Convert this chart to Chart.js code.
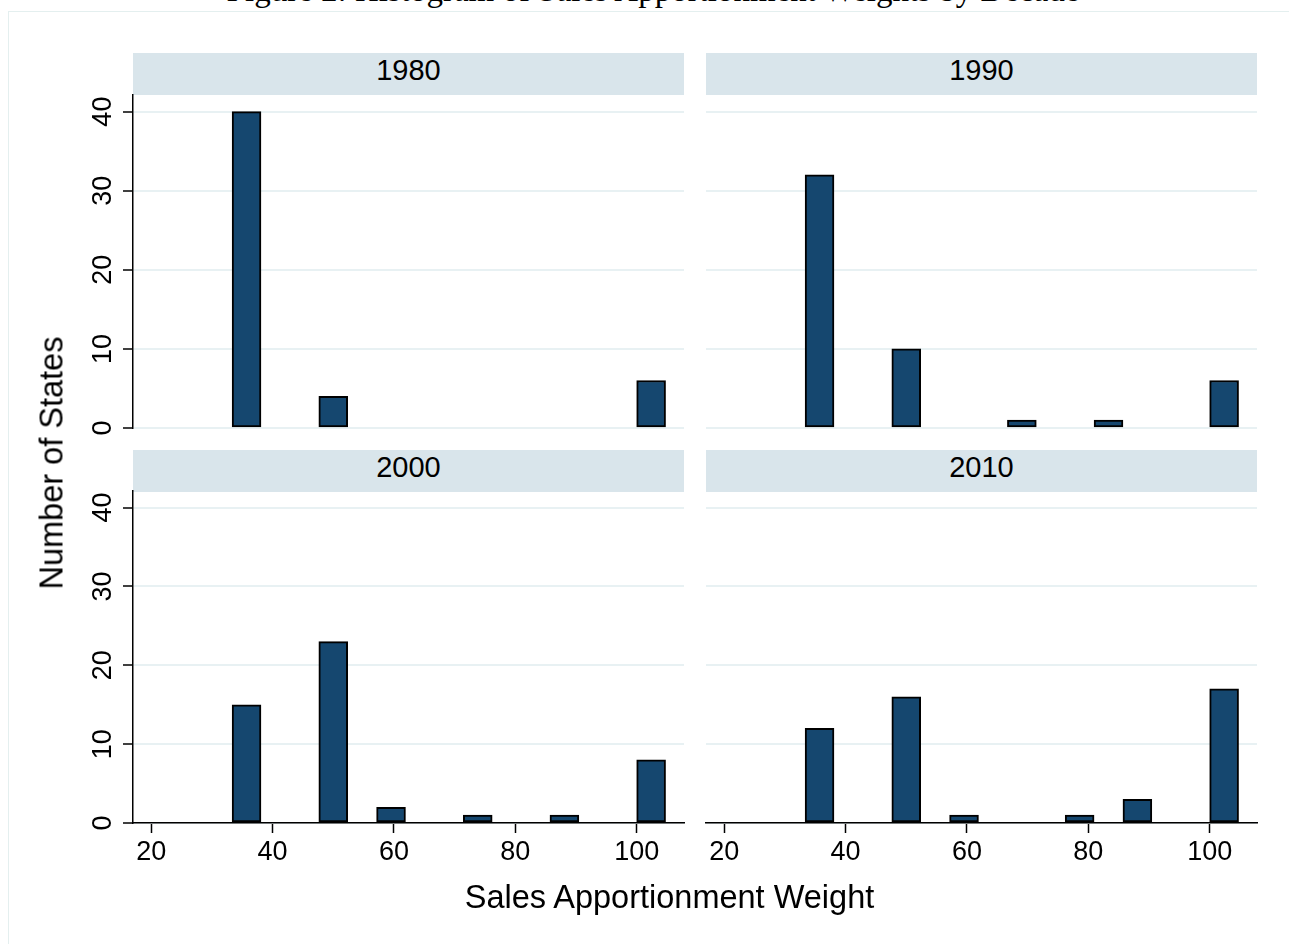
<!DOCTYPE html>
<html>
<head>
<meta charset="utf-8">
<script src="https://cdn.jsdelivr.net/npm/chart.js@4.4.1/dist/chart.umd.min.js"></script>
<style>
  body { margin: 0; background: #fff; font-family: "Liberation Sans", Arial, sans-serif; }
  #page { position: relative; width: 1289px; height: 944px; overflow: hidden; background: #fff; }
  #frame { position: absolute; left: 8px; top: 11px; width: 1300px; height: 960px; border: 1px solid #e4efef; }
  #title { position: absolute; left: 0; width: 1306px; top: -28px; text-align: center;
           font-family: "Liberation Serif", serif; font-size: 33px; color: #000; white-space: nowrap; }
  .strip { position: absolute; height: 42px; line-height: 34px; background: #d9e5eb; text-align: center;
           font-size: 29px; color: #000; }
  canvas { position: absolute; }
  #xtitle { position: absolute; left: 0; width: 1339px; top: 879px; text-align: center; font-size: 32.5px; color: #000; }
  #ytitle { position: absolute; left: 52px; top: 463px; transform: translate(-50%, -50%) rotate(-90deg);
            font-size: 32.5px; white-space: nowrap; color: #000; }
</style>
</head>
<body>
<div id="page">
  <div id="frame"></div>
  <div id="title">Figure 2: Histogram of Sales Apportionment Weights by Decade</div>
  <div class="strip" style="left:133px; top:53px; width:551px;">1980</div>
  <div class="strip" style="left:706px; top:53px; width:551px;">1990</div>
  <div class="strip" style="left:133px; top:450px; width:551px;">2000</div>
  <div class="strip" style="left:706px; top:450px; width:551px;">2010</div>
  <canvas id="c1980"></canvas>
  <canvas id="c1990"></canvas>
  <canvas id="c2000"></canvas>
  <canvas id="c2010"></canvas>
  <div id="xtitle">Sales Apportionment Weight</div>
  <div id="ytitle">Number of States</div>
</div>
<script>
// histogram bins (left edges) and width
const binStarts = [33.33, 38.10, 42.86, 47.62, 52.38, 57.14, 61.90, 66.67, 71.43, 76.19, 80.95, 85.71, 90.48, 95.24, 100];
const binWidth = 4.762;

// number of states in each bin, by decade
const counts1980 = [40, 0, 0, 4, 0, 0, 0, 0, 0, 0, 0, 0, 0, 0, 6];
const counts1990 = [32, 0, 0, 10, 0, 0, 0, 1, 0, 0, 1, 0, 0, 0, 6];
const counts2000 = [15, 0, 0, 23, 0, 2, 0, 0, 1, 0, 0, 1, 0, 0, 8];
const counts2010 = [12, 0, 0, 16, 0, 1, 0, 0, 0, 1, 0, 3, 0, 0, 17];

const xTicks = [20, 40, 60, 80, 100];
const yTicks = [0, 10, 20, 30, 40];

const PAD = 30, YAXIS_W = 60, XAXIS_H = 50;
const tickFont = { family: 'Liberation Sans', size: 27 };

function makePanel(id, counts, box) {
  const cv = document.getElementById(id);
  const w = box.w + (box.showY ? YAXIS_W : 0) + 2 * PAD;
  const h = box.h + (box.showX ? XAXIS_H : 0) + 2 * PAD;
  cv.style.left = (box.l - (box.showY ? YAXIS_W : 0) - PAD) + 'px';
  cv.style.top = (box.t - PAD) + 'px';
  cv.style.width = w + 'px';
  cv.style.height = h + 'px';
  cv.width = w;
  cv.height = h;

  return new Chart(cv.getContext('2d'), {
    type: 'bar',
    data: {
      datasets: [{
        data: binStarts.map((s, i) => ({ x: s + binWidth / 2, y: counts[i] })),
        backgroundColor: '#15476f',
        borderColor: '#000',
        borderWidth: 2,
        borderSkipped: false,
        barPercentage: 1,
        categoryPercentage: 1,
      }],
    },
    options: {
      responsive: false,
      animation: false,
      devicePixelRatio: 1,
      layout: { padding: PAD },
      plugins: { legend: { display: false }, tooltip: { enabled: false } },
      scales: {
        x: {
          type: 'linear',
          min: 17.0,
          max: 107.8,
          display: box.showX,
          offset: false,
          afterFit: (s) => { s.height = box.showX ? XAXIS_H : 0; },
          afterBuildTicks: (s) => { s.ticks = xTicks.map(v => ({ value: v })); },
          grid: { offset: false, drawOnChartArea: false, drawTicks: true, tickLength: 10, tickColor: '#000', tickWidth: 1.5 },
          border: { display: true, color: '#000', width: 1.5 },
          ticks: { font: tickFont, color: '#000', padding: 3, maxRotation: 0 },
        },
        y: {
          min: 0,
          max: 42.1,
          afterFit: (s) => { s.width = box.showY ? YAXIS_W : 0; },
          afterBuildTicks: (s) => { s.ticks = yTicks.map(v => ({ value: v })); },
          grid: {
            color: '#e8f1f3', lineWidth: 2,
            drawTicks: box.showY, tickLength: 10, tickColor: '#000', tickWidth: 1.5,
          },
          border: { display: box.showY, color: '#000', width: 1.5 },
          ticks: {
            display: box.showY, font: tickFont, color: '#000', padding: 4,
            minRotation: 90, maxRotation: 90, crossAlign: 'center',
          },
        },
      },
    },
  });
}

makePanel('c1980', counts1980, { l: 133, t: 95, w: 551, h: 333, showY: true, showX: false });
makePanel('c1990', counts1990, { l: 706, t: 95, w: 551, h: 333, showY: false, showX: false });
makePanel('c2000', counts2000, { l: 133, t: 491, w: 551, h: 332, showY: true, showX: true });
makePanel('c2010', counts2010, { l: 706, t: 491, w: 551, h: 332, showY: false, showX: true });
</script>
</body>
</html>
